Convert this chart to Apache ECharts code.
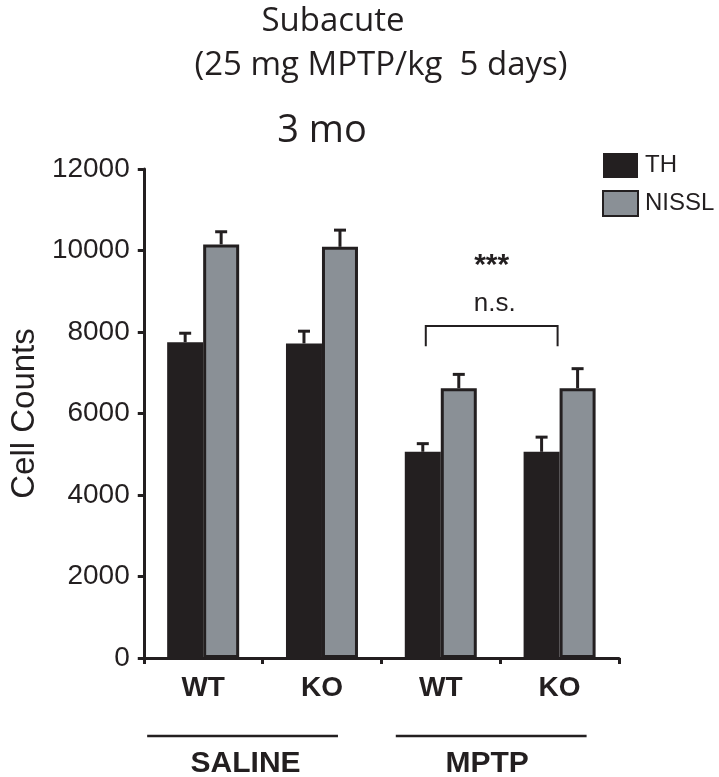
<!DOCTYPE html>
<html>
<head>
<meta charset="utf-8">
<script src="https://cdn.jsdelivr.net/npm/echarts@6/dist/echarts.min.js"></script>
<style>html,body{margin:0;padding:0;background:#fff;}#c{width:719px;height:777px;}</style>
</head>
<body>
<div id="c"></div>
<script>
// ---- data ----
const categories = ['WT', 'KO', 'WT', 'KO'];
const groups = ['SALINE', 'MPTP'];
const seriesNames = ['TH', 'NISSL'];
const thMean = [7750, 7720, 5060, 5060];
const thErr = [220, 300, 200, 360];
const nisslMean = [10150, 10090, 6620, 6620];
const nisslErr = [310, 410, 340, 480];
const yTickValues = [0, 2000, 4000, 6000, 8000, 10000, 12000];

const INK = '#231f20';
const GREY = '#8a9096';
const BAR_W = 36;

const chart = echarts.init(document.getElementById('c'), null, {renderer: 'canvas'});

function errSeries(name, means, errs, sign) {
  return {
    type: 'custom',
    name: name + ' err',
    z: 5,
    data: means.map((m, i) => [i, m, errs[i]]),
    renderItem: function (params, api) {
      const base = api.coord([api.value(0), api.value(1)]);
      const top = api.coord([api.value(0), api.value(1) + api.value(2)]);
      const x = base[0] + sign * BAR_W / 2;
      return {
        type: 'group',
        children: [
          {type: 'line', shape: {x1: x, y1: base[1], x2: x, y2: top[1]}, style: {stroke: INK, lineWidth: 3}},
          {type: 'line', shape: {x1: x - 6, y1: top[1], x2: x + 6, y2: top[1]}, style: {stroke: INK, lineWidth: 3}}
        ]
      };
    }
  };
}

const option = {
  animation: false,
  backgroundColor: '#fff',
  grid: {left: 143, right: 100, top: 169, bottom: 119, containLabel: false},
  legend: {
    data: seriesNames,
    orient: 'vertical',
    left: 597, top: 148,
    itemWidth: 35, itemHeight: 25, itemGap: 12,
    icon: 'rect',
    textStyle: {fontFamily: 'Liberation Sans, Arial', fontSize: 24, color: INK, padding: [0, 0, 0, 2]}
  },
  xAxis: {
    type: 'category',
    data: categories,
    axisLine: {lineStyle: {color: INK, width: 3}},
    axisTick: {show: true, length: 6, lineStyle: {color: INK, width: 3}, alignWithLabel: false},
    axisLabel: {color: INK, fontFamily: 'Liberation Sans, Arial', fontWeight: 'bold', fontSize: 28, margin: 16},
    splitLine: {show: false}
  },
  yAxis: {
    type: 'value',
    min: 0, max: 12000, interval: 2000,
    name: 'Cell Counts',
    nameLocation: 'middle',
    nameGap: 100,
    nameTextStyle: {color: INK, fontFamily: 'Liberation Sans, Arial', fontSize: 33},
    axisLine: {show: true, lineStyle: {color: INK, width: 3}},
    axisTick: {show: true, length: 6, lineStyle: {color: INK, width: 3}},
    axisLabel: {color: INK, fontFamily: 'Liberation Sans, Arial', fontSize: 28, margin: 14,
      formatter: v => yTickValues.includes(v) ? String(v) : ''},
    splitLine: {show: false}
  },
  series: [
    {name: 'TH', type: 'bar', data: thMean, barWidth: BAR_W, barGap: '0%',
      itemStyle: {color: INK, borderColor: INK, borderWidth: 0}},
    {name: 'NISSL', type: 'bar', data: nisslMean, barWidth: BAR_W, barGap: '0%',
      itemStyle: {color: GREY, borderColor: INK, borderWidth: 3}},
    errSeries('TH', thMean, thErr, -1),
    errSeries('NISSL', nisslMean, nisslErr, 1)
  ]
};
chart.setOption(option);

// ---- annotations positioned through the chart's own scales ----
const px = (x, y) => chart.convertToPixel({gridIndex: 0}, [x, y]);
const c0 = px(0, 0), c1 = px(1, 0), c2 = px(2, 0), c3 = px(3, 0);
const bracketTop = px(2, 8150)[1];
const bracketLeg = px(2, 7650)[1];
const bl = c2[0] - 15, br = c3[0] - 2;
const starsY = px(2, 9620)[1];
const nsY = px(2, 8680)[1];
const groupLineY = c0[1] + 78;
const groupTextY = c0[1] + 106;

const graphics = [
  {type: 'text', style: {text: 'Subacute', x: 333, y: 22, align: 'center', verticalAlign: 'middle',
    font: '33px "Open Sans"', fill: INK}},
  {type: 'text', style: {text: '(25 mg MPTP/kg  5 days)', x: 381, y: 66, align: 'center', verticalAlign: 'middle',
    font: '33px "Open Sans"', fill: INK}},
  {type: 'text', style: {text: '3 mo', x: 322, y: 131, align: 'center', verticalAlign: 'middle',
    font: '38px "Open Sans"', fill: INK}},
  {type: 'polyline', shape: {points: [[bl, bracketLeg], [bl, bracketTop], [br, bracketTop], [br, bracketLeg]]},
    style: {stroke: INK, lineWidth: 2, fill: null}},
  {type: 'text', style: {text: '***', x: (bl + br) / 2, y: starsY, align: 'center', verticalAlign: 'middle',
    font: 'bold 30px "Liberation Sans", Arial', fill: INK}},
  {type: 'text', style: {text: 'n.s.', x: (bl + br) / 2 + 3, y: nsY, align: 'center', verticalAlign: 'middle',
    font: '26px "Liberation Sans", Arial', fill: INK}},
  {type: 'line', shape: {x1: c0[0] - 56, y1: groupLineY, x2: c1[0] + 16, y2: groupLineY}, style: {stroke: INK, lineWidth: 2.5}},
  {type: 'line', shape: {x1: c2[0] - 45, y1: groupLineY, x2: c3[0] + 27, y2: groupLineY}, style: {stroke: INK, lineWidth: 2.5}},
  {type: 'text', style: {text: groups[0], x: (c0[0] + c1[0]) / 2 - 17, y: groupTextY, align: 'center', verticalAlign: 'middle',
    font: 'bold 30px "Liberation Sans", Arial', fill: INK}},
  {type: 'text', style: {text: groups[1], x: (c2[0] + c3[0]) / 2 - 13, y: groupTextY, align: 'center', verticalAlign: 'middle',
    font: 'bold 30px "Liberation Sans", Arial', fill: INK}}
];
chart.setOption({graphic: graphics});
</script>
</body>
</html>
